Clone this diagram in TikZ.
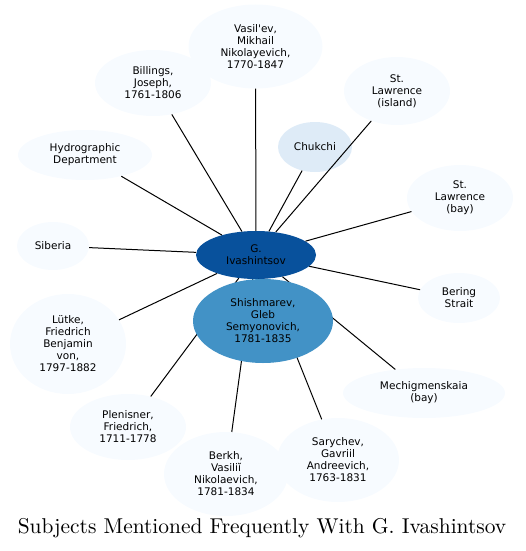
\documentclass[tikz,border=0pt]{standalone}
\usepackage{fontspec}
\newfontfamily\etiqueta{DejaVu Sans}
\usetikzlibrary{shapes.geometric}
\pgfdeclarelayer{frente}
\pgfsetlayers{main,frente}
\definecolor{azulpalido}{HTML}{F7FBFF}
\definecolor{azulsuave}{HTML}{DEEBF7}
\definecolor{azulmedio}{HTML}{4292C6}
\definecolor{azuloscuro}{HTML}{08519C}
\tikzset{
  tema/.style={ellipse, fill=#1, inner sep=0pt, align=center,
    font=\etiqueta\fontsize{10.5}{12}\selectfont},
  tema/.default=azulpalido,
  enlace/.style={line width=1pt, black}
}

\begin{document}
\begin{tikzpicture}[x=1pt, y=-1pt]
    % Marco de la figura
    \useasboundingbox (0,0) rectangle (525,551);
    % Nodo central
    \node[tema=azuloscuro, minimum width=120, minimum height=48] (ivashintsov) at (256,255) {G.\\Ivashintsov};
    % Temas alrededor
    \node[tema, minimum width=134, minimum height=84] (vasilev) at (255.5,46.5) {Vasil'ev,\\Mikhail\\Nikolayevich,\\1770-1847};
    \node[tema, minimum width=116, minimum height=66] (billings) at (153,83) {Billings,\\Joseph,\\1761-1806};
    \node[tema, minimum width=106, minimum height=68] (lawisla) at (397,91) {St.\\Lawrence\\(island)};
    \node[tema=azulsuave, minimum width=74, minimum height=50] (chukchi) at (315,147) {Chukchi};
    \node[tema, minimum width=134, minimum height=50] (hidro) at (85,155) {Hydrographic\\Department};
    \node[tema, minimum width=106, minimum height=66] (lawbahia) at (460,198) {St.\\Lawrence\\(bay)};
    \node[tema, minimum width=72, minimum height=48] (siberia) at (53,246) {Siberia};
    \node[tema, minimum width=82, minimum height=50] (bering) at (459,298) {Bering\\Strait};
    \node[tema, minimum width=116, minimum height=100] (lutke) at (68,344) {Lütke,\\Friedrich\\Benjamin\\von,\\1797-1882};
    \node[tema, minimum width=162, minimum height=50] (mechig) at (424,393) {Mechigmenskaia\\(bay)};
    \node[tema, minimum width=116, minimum height=66] (plenisner) at (128,427) {Plenisner,\\Friedrich,\\1711-1778};
    \node[tema, minimum width=124, minimum height=84] (berkh) at (226,474) {Berkh,\\Vasiliĭ\\Nikolaevich,\\1781-1834};
    \node[tema, minimum width=122, minimum height=84] (sarychev) at (338,460) {Sarychev,\\Gavriil\\Andreevich,\\1763-1831};
    \begin{pgfonlayer}{frente}
        \node[tema=azulmedio, minimum width=140, minimum height=84] (shishmarev) at (263,321) {Shishmarev,\\Gleb\\Semyonovich,\\1781-1835};
    \end{pgfonlayer}
    % Enlaces desde el nodo central
    \foreach \t in {vasilev, billings, lawisla, chukchi, hidro, lawbahia, siberia, bering, lutke, mechig, plenisner, berkh, sarychev, shishmarev}
        \draw[enlace] (ivashintsov) -- (\t);
    % Titulo
    \node (titulo) at (262,528) {\scalebox{2.143}{\fontsize{10}{12}\selectfont Subjects Mentioned Frequently With G. Ivashintsov}};
\end{tikzpicture}
\end{document}
